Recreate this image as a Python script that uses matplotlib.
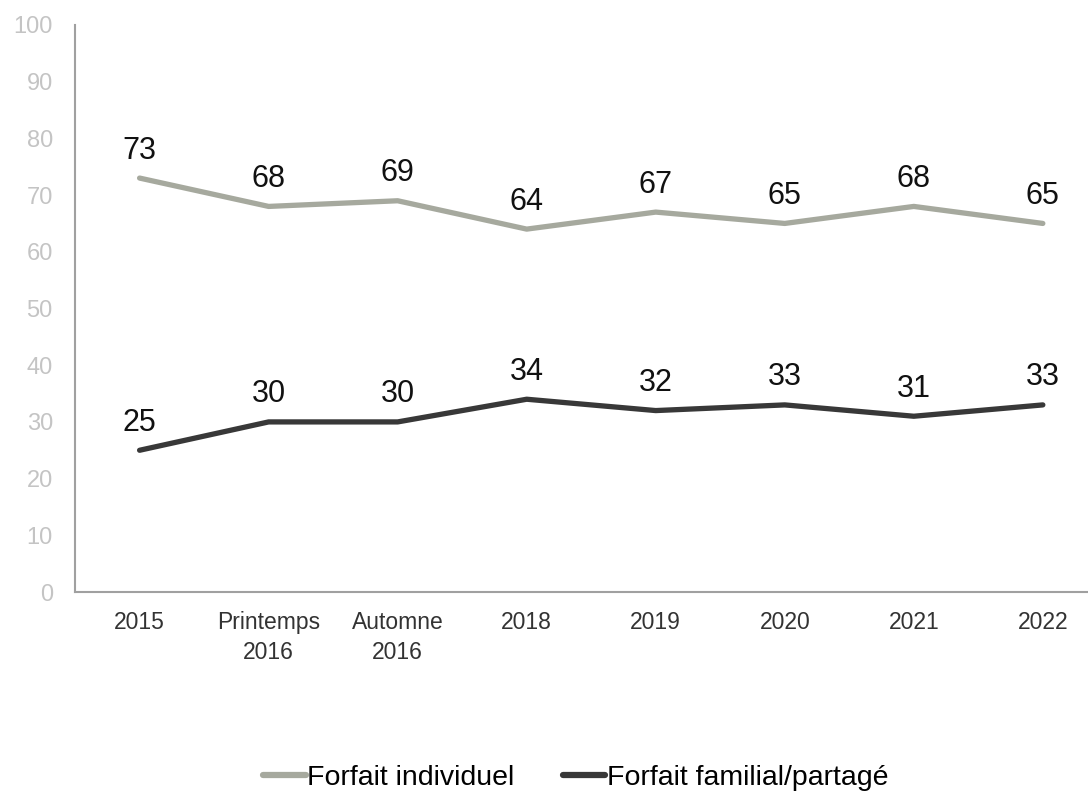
import matplotlib
matplotlib.use("Agg")
import matplotlib.pyplot as plt

plt.rcParams['font.family'] = ['Liberation Sans', 'DejaVu Sans']

categories = ["2015", "Printemps\n2016", "Automne\n2016", "2018", "2019", "2020", "2021", "2022"]
individuel = [73, 68, 69, 64, 67, 65, 68, 65]
familial = [25, 30, 30, 34, 32, 33, 31, 33]
yticks = [0, 10, 20, 30, 40, 50, 60, 70, 80, 90, 100]

fig = plt.figure(figsize=(10.88, 7.95), dpi=100)
ax = fig.add_axes([0.069, 0.2553, 0.931, 0.7133])

x = list(range(len(categories)))
ax.plot(x, individuel, color="#a6a99e", lw=3.8, solid_capstyle="round", label="Forfait individuel")
ax.plot(x, familial, color="#383838", lw=3.8, solid_capstyle="round", label="Forfait familial/partagé")

for xi, v in zip(x, individuel):
    ax.annotate(str(v), (xi, v), xytext=(0, 14), textcoords="offset points",
                ha="center", va="baseline", fontsize=22, color="#111111")
for xi, v in zip(x, familial):
    ax.annotate(str(v), (xi, v), xytext=(0, 14), textcoords="offset points",
                ha="center", va="baseline", fontsize=22, color="#111111")

ax.set_ylim(0, 100)
ax.set_xlim(-0.5, 7.35)
ax.set_yticks(yticks)
ax.set_xticks(x)
ax.set_xticklabels(categories, fontsize=16.5, color="#333333", linespacing=1.35)
ax.tick_params(axis="y", labelsize=17, labelcolor="#c4c4c4", length=0, pad=16)
ax.tick_params(axis="x", length=0, pad=14)

for s in ["top", "right"]:
    ax.spines[s].set_visible(False)
for s in ["left", "bottom"]:
    ax.spines[s].set_color("#a0a0a0")
    ax.spines[s].set_linewidth(1.5)

leg = fig.legend(loc="center", bbox_to_anchor=(0.529, 0.021), ncol=2, frameon=False,
                 fontsize=20.5, handlelength=1.5, handletextpad=0.05, columnspacing=1.7)
for h in leg.get_lines():
    h.set_linewidth(4.5)

fig.savefig("out.png", dpi=100)
